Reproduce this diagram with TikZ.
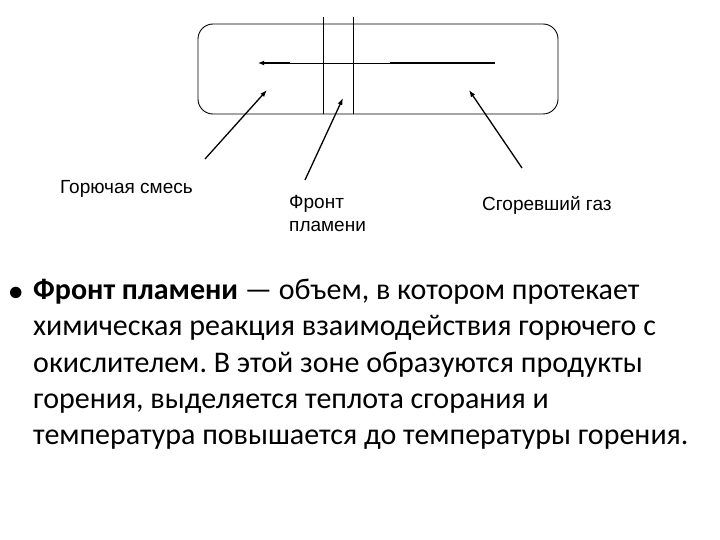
\documentclass[tikz,border=0pt]{standalone}
\usepackage{fontspec}
\setmainfont{Carlito}
\newfontfamily\arialf{Liberation Sans}
\usetikzlibrary{arrows.meta}
\frenchspacing
\begin{document}
\begin{tikzpicture}[x=1pt,y=-1pt,
  thin line/.style={line width=0.9pt},
  pointer/.style={line width=1.3pt,-{Latex[length=7pt,width=5pt]}},
  label/.style={font=\arialf\fontsize{19}{23}\selectfont,anchor=base west,inner sep=0pt},
  body/.style={font=\fontsize{30}{37}\selectfont,anchor=base west,inner sep=0pt}]
\useasboundingbox (0,0) rectangle (720,540);
% tube
\draw[thin line,rounded corners=15pt] (198,24) rectangle (558,114);
\coordinate (f1t) at (323,17); \coordinate (f1b) at (323,114);
\coordinate (f2t) at (353,17); \coordinate (f2b) at (353,114);
\draw[thin line] (f1t) -- (f1b);
\draw[thin line] (f2t) -- (f2b);
% flow arrow
\coordinate (fa) at (495,63); \coordinate (fb) at (390,63);
\coordinate (fc) at (290,63); \coordinate (fd) at (258,63);
\draw[line width=2pt] (fa) -- (fb);
\draw[thin line] (fb) -- (fc);
\draw[line width=2pt,-{Latex[length=6pt,width=5pt]}] (fc) -- (fd);
% labels
\node[label] (l1) at (60,194) {Горючая смесь};
\node[label] (l2a) at (289,208) {Фронт};
\node[label] (l2b) at (289,231) {пламени};
\node[label] (l3) at (482,211) {Сгоревший газ};
% pointers
\coordinate (p1s) at (205,159); \coordinate (p1e) at (267,90);
\coordinate (p2s) at (305,180); \coordinate (p2e) at (343,98);
\coordinate (p3s) at (522,168); \coordinate (p3e) at (469,90);
\draw[pointer] (p1s) -- (p1e);
\draw[pointer] (p2s) -- (p2e);
\draw[pointer] (p3s) -- (p3e);
% body text
\node[body,font=\fontsize{27}{30}\selectfont\bfseries] (b0) at (9,300) {•};
\node[body] (b1) at (33,299) {\textbf{Фронт пламени} — объем, в котором протекает};
\node[body] (b2) at (33,335.5) {химическая реакция взаимодействия горючего с};
\node[body] (b3) at (33,372) {окислителем. В этой зоне образуются продукты};
\node[body] (b4) at (33,408) {горения, выделяется теплота сгорания и};
\node[body] (b5) at (33,444) {температура повышается до температуры горения.};
\end{tikzpicture}
\end{document}
